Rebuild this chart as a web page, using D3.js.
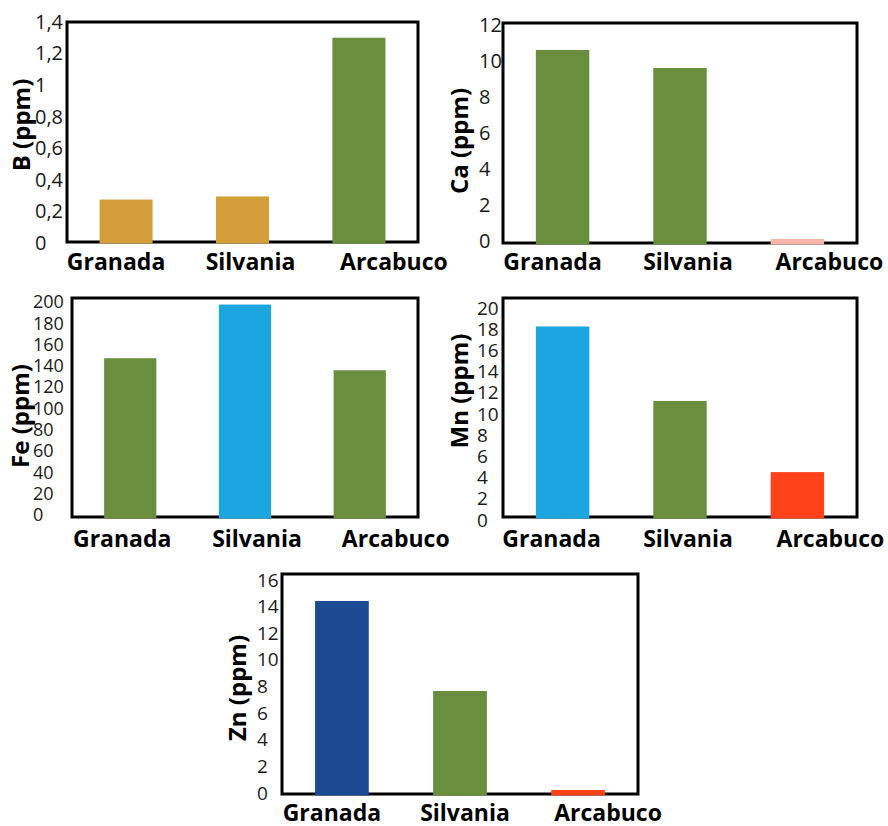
<!DOCTYPE html>
<html>
<head>
<meta charset="utf-8">
<script src="https://cdn.jsdelivr.net/npm/d3@7"></script>
<style>
  body { margin: 0; background: #fff; }
  svg { display: block; }
  .tick text { fill: #1a1a1a; font-family: "Open Sans", "Noto Sans", sans-serif; }
  .cat { font-family: "Open Sans", "Noto Sans", sans-serif; font-weight: 700; fill: #000; }
  .ytitle { font-family: "Open Sans", "Noto Sans", sans-serif; font-weight: 700; fill: #000; }
</style>
</head>
<body>
<div id="chart"></div>
<script>
// ---------------- data ----------------
const sites = ["Granada", "Silvania", "Arcabuco"];

const boronValues = [0.27, 0.29, 1.3];
const calciumValues = [10.53, 9.55, 0.22];
const ironValues = [145, 194, 134];
const manganeseValues = [17.4, 10.6, 4.1];
const zincValues = [14.04, 7.49, 0.29];

const boronTicks = [0, 0.2, 0.4, 0.6, 0.8, 1, 1.2, 1.4];
const calciumTicks = [0, 2, 4, 6, 8, 10, 12];
const ironTicks = [0, 20, 40, 60, 80, 100, 120, 140, 160, 180, 200];
const manganeseTicks = [0, 2, 4, 6, 8, 10, 12, 14, 16, 18, 20];
const zincTicks = [0, 2, 4, 6, 8, 10, 12, 14, 16];

// bar colours
const gold = "#d39d3a", green = "#698e3d", sky = "#1ba6df",
      red = "#ff4219", navy = "#1b4a92", pink = "#f6b8ab";

// comma decimal like the original
const fmt = d3.formatLocale({decimal: ",", thousands: ".", grouping: [3], currency: ["", ""]}).format("~g");

// ---------------- layout ----------------
const width = 888, height = 826;

const panels = [
  {title: "B (ppm)", values: boronValues, ticks: boronTicks, colors: [gold, gold, green],
   frame: [67, 418, 22, 242], tickX: 35, tickRange: [243, 22], tickSize: 20,
   titleX: 30, titleY: 125, catY: 270, shift: [-10, 8, 35]},
  {title: "Ca (ppm)", values: calciumValues, ticks: calciumTicks, colors: [green, green, pink],
   frame: [503, 857, 23, 243], tickX: 479, tickRange: [241, 25], tickSize: 20,
   titleX: 468, titleY: 141, catY: 270, shift: [-10, 8, 32]},
  {title: "Fe (ppm)", values: ironValues, ticks: ironTicks, colors: [green, sky, green],
   frame: [72, 418, 298, 517], tickX: 33, tickRange: [515, 302], tickSize: 18,
   titleX: 29, titleY: 416, catY: 547, shift: [-8, 12, 36]},
  {title: "Mn (ppm)", values: manganeseValues, ticks: manganeseTicks, colors: [sky, green, red],
   frame: [503, 857, 298, 517], tickX: 477, tickRange: [520, 308], tickSize: 19,
   titleX: 468, titleY: 391, catY: 547, shift: [-11, 8, 33]},
  {title: "Zn (ppm)", values: zincValues, ticks: zincTicks, colors: [navy, green, red],
   frame: [282, 638, 574, 794], tickX: 257, tickRange: [793, 580], tickSize: 19,
   titleX: 246, titleY: 688, catY: 821, shift: [-10, 5, 30]}
];

const svg = d3.select("#chart").append("svg")
  .attr("width", width)
  .attr("height", height);

panels.forEach(p => {
  const [x0, x1, y0, y1] = p.frame;
  const g = svg.append("g");

  const x = d3.scaleBand()
    .domain(sites)
    .range([x0, x1])
    .paddingInner(0.545)
    .paddingOuter(0.28);

  const yMax = d3.max(p.ticks);
  const y = d3.scaleLinear().domain([0, yMax]).range([y1, y0]);

  // tick labels (left aligned, no tick lines)
  const yLab = y.copy().range(p.tickRange);
  const axis = g.append("g")
    .attr("transform", `translate(${x0},0)`)
    .call(d3.axisLeft(yLab).tickValues(p.ticks).tickFormat(fmt).tickSize(0));
  axis.select(".domain").remove();
  axis.selectAll("text")
    .attr("text-anchor", "start")
    .attr("x", p.tickX - x0)
    .style("font-size", p.tickSize + "px");

  // frame
  g.append("rect")
    .attr("x", x0).attr("y", y0)
    .attr("width", x1 - x0).attr("height", y1 - y0)
    .attr("fill", "none")
    .attr("stroke", "#000")
    .attr("stroke-width", 3);

  // bars
  g.selectAll(".bar")
    .data(p.values)
    .join("rect")
    .attr("class", "bar")
    .attr("x", (d, i) => x(sites[i]))
    .attr("width", x.bandwidth())
    .attr("y", d => y(d))
    .attr("height", d => y(0) - y(d) + 1.5)
    .attr("fill", (d, i) => p.colors[i]);

  // category labels
  g.selectAll(".cat")
    .data(sites)
    .join("text")
    .attr("class", "cat")
    .attr("x", (d, i) => x(d) + x.bandwidth() / 2 + p.shift[i])
    .attr("y", p.catY)
    .attr("text-anchor", "middle")
    .style("font-size", "23px")
    .text(d => d);

  // y title
  g.append("text")
    .attr("class", "ytitle")
    .attr("transform", `translate(${p.titleX},${p.titleY}) rotate(-90)`)
    .attr("text-anchor", "middle")
    .style("font-size", "24px")
    .text(p.title);
});
</script>
</body>
</html>
